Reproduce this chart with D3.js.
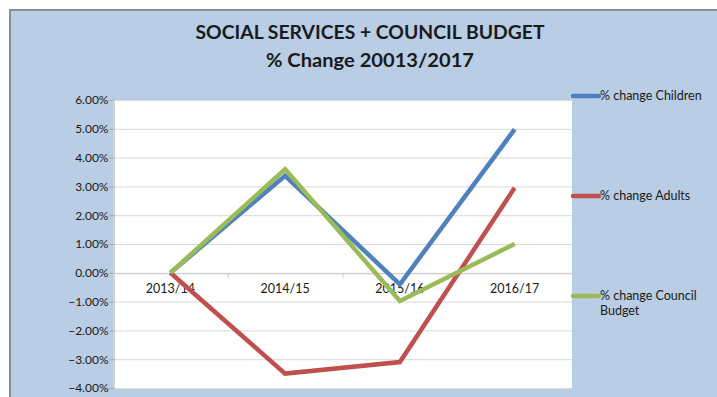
<!DOCTYPE html>
<html>
<head>
<meta charset="utf-8">
<script src="https://cdn.jsdelivr.net/npm/d3@7"></script>
<style>
  html, body { margin: 0; padding: 0; background: #ffffff; }
  svg { display: block; }
</style>
</head>
<body>
<svg id="chart" width="717" height="397"></svg>
<script>
// Budget change by year, in percent
const categories = ["2013/14", "2014/15", "2015/16", "2016/17"];
const children = [0, 3.37, -0.4, 4.98];
const adults = [0, -3.5, -3.1, 2.95];
const councilBudget = [0, 3.6, -0.98, 1.0];
const seriesNames = ["% change Children", "% change Adults", "% change Council Budget"];
const yTicks = [6, 5, 4, 3, 2, 1, 0, -1, -2, -3, -4];

const series = [
  { name: seriesNames[0], values: children, color: "#4F81BD" },
  { name: seriesNames[1], values: adults, color: "#C0504D" },
  { name: seriesNames[2], values: councilBudget, color: "#9BBB59" }
];

const svg = d3.select("#chart");
const font = "Lato, 'Open Sans', sans-serif";

// outer panel
svg.append("rect")
  .attr("x", 10).attr("y", 10)
  .attr("width", 720).attr("height", 400)
  .attr("fill", "#B9CDE5")
  .attr("stroke", "#8C8C8C").attr("stroke-width", 2);

// title
const title = svg.append("text")
  .attr("text-anchor", "middle")
  .attr("font-family", font)
  .attr("font-weight", "bold")
  .attr("font-size", 18)
  .attr("fill", "#1a1a1a");
title.append("tspan").attr("x", 370).attr("y", 39)
  .attr("textLength", 349).attr("lengthAdjust", "spacingAndGlyphs")
  .text("SOCIAL SERVICES + COUNCIL BUDGET");
title.append("tspan").attr("x", 370).attr("y", 67)
  .attr("textLength", 208).attr("lengthAdjust", "spacingAndGlyphs")
  .text("% Change 20013/2017");

const plot = { left: 113, top: 100, right: 572, bottom: 388 };

const x = d3.scaleBand().domain(categories).range([plot.left, plot.right]);
const y = d3.scaleLinear().domain([-4, 6]).range([plot.bottom, plot.top]);

// plot background
svg.append("rect")
  .attr("x", plot.left).attr("y", plot.top)
  .attr("width", plot.right - plot.left).attr("height", plot.bottom - plot.top)
  .attr("fill", "#ffffff");

// gridlines
svg.append("g")
  .selectAll("line")
  .data(yTicks)
  .join("line")
  .attr("x1", plot.left).attr("x2", plot.right)
  .attr("y1", d => y(d) + 0.5).attr("y2", d => y(d) + 0.5)
  .attr("stroke", "#D9D9D9").attr("stroke-width", 1);

// y axis
const yAxis = svg.append("g")
  .attr("transform", `translate(${plot.left + 0.5},0)`)
  .call(d3.axisLeft(y).tickValues(yTicks).tickSize(4).tickSizeOuter(0)
    .tickFormat(d => d3.format(".2f")(d) + "%"));
yAxis.select(".domain").attr("stroke", "#A6A6A6");
yAxis.selectAll(".tick line").attr("stroke", "#A6A6A6");
yAxis.selectAll(".tick text")
  .attr("font-family", font).attr("font-size", 12).attr("fill", "#1a1a1a")
  .attr("x", -5);

// category axis along the zero line
const xAxis = svg.append("g")
  .attr("transform", `translate(0,${y(0) + 0.5})`)
  .call(d3.axisBottom(x).tickSize(0));
xAxis.select(".domain").attr("stroke", "#C8C8C8");
xAxis.selectAll(".tick text")
  .attr("font-family", font).attr("font-size", 12.5).attr("fill", "#1a1a1a")
  .attr("dy", "1.3em");
// boundary ticks between categories
svg.append("g")
  .selectAll("line")
  .data(categories.slice(1))
  .join("line")
  .attr("x1", d => x(d) + 0.5).attr("x2", d => x(d) + 0.5)
  .attr("y1", y(0)).attr("y2", y(0) + 5)
  .attr("stroke", "#C8C8C8");

// series lines
const line = d3.line()
  .x((d, i) => x(categories[i]) + x.bandwidth() / 2)
  .y(d => y(d));

svg.append("g")
  .selectAll("path")
  .data(series)
  .join("path")
  .attr("d", d => line(d.values))
  .attr("fill", "none")
  .attr("stroke", d => d.color)
  .attr("stroke-width", 4.5)
  .attr("stroke-linejoin", "miter");

// legend
const legendY = [96, 196, 296];
const legend = svg.append("g")
  .selectAll("g")
  .data(series)
  .join("g")
  .attr("transform", (d, i) => `translate(573,${legendY[i]})`);
legend.append("line")
  .attr("x1", 0).attr("x2", 26)
  .attr("stroke", d => d.color)
  .attr("stroke-width", 4.5).attr("stroke-linecap", "round");
const lt = legend.append("text")
  .attr("font-family", font).attr("font-size", 12.5).attr("fill", "#1a1a1a");
lt.each(function (d) {
  const t = d3.select(this);
  if (d.name === seriesNames[2]) {
    t.append("tspan").attr("x", 27).attr("y", 4).text("% change Council");
    t.append("tspan").attr("x", 27).attr("y", 19).text("Budget");
  } else {
    t.append("tspan").attr("x", 27).attr("y", 4).text(d.name);
  }
});
</script>
</body>
</html>
